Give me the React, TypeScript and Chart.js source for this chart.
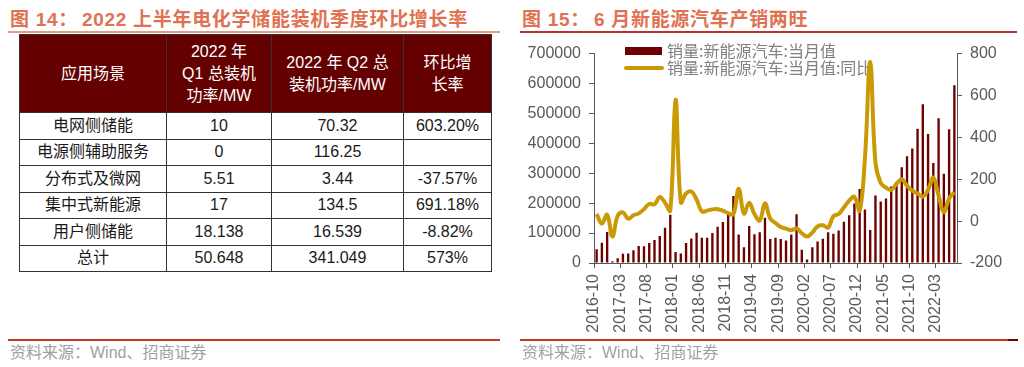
import React, { useEffect, useRef } from 'react';
import { Chart, registerables } from 'chart.js';

Chart.register(...registerables);

// ---------- Figure 14 table data ----------
const tableHeaders = [
  ['应用场景'],
  ['2022 年', 'Q1 总装机', '功率/MW'],
  ['2022 年 Q2 总', '装机功率/MW'],
  ['环比增', '长率'],
];
const scenes = ['电网侧储能', '电源侧辅助服务', '分布式及微网', '集中式新能源', '用户侧储能', '总计'];
const q1Power = ['10', '0', '5.51', '17', '18.138', '50.648'];
const q2Power = ['70.32', '116.25', '3.44', '134.5', '16.539', '341.049'];
const qoqGrowth = ['603.20%', '', '-37.57%', '691.18%', '-8.82%', '573%'];

// ---------- Figure 15 chart data ----------
const months = [
  '2016-10', '2016-11', '2016-12',
  '2017-01', '2017-02', '2017-03', '2017-04', '2017-05', '2017-06', '2017-07', '2017-08', '2017-09', '2017-10', '2017-11', '2017-12',
  '2018-01', '2018-02', '2018-03', '2018-04', '2018-05', '2018-06', '2018-07', '2018-08', '2018-09', '2018-10', '2018-11', '2018-12',
  '2019-01', '2019-02', '2019-03', '2019-04', '2019-05', '2019-06', '2019-07', '2019-08', '2019-09', '2019-10', '2019-11', '2019-12',
  '2020-01', '2020-02', '2020-03', '2020-04', '2020-05', '2020-06', '2020-07', '2020-08', '2020-09', '2020-10', '2020-11', '2020-12',
  '2021-01', '2021-02', '2021-03', '2021-04', '2021-05', '2021-06', '2021-07', '2021-08', '2021-09', '2021-10', '2021-11', '2021-12',
  '2022-01', '2022-02', '2022-03', '2022-04', '2022-05', '2022-06',
];
const salesMonthly = [
  46000, 68000, 104000,
  5700, 16000, 31000, 32000, 43000, 57000, 56000, 67000, 77000, 90000, 118000, 161000,
  37000, 32000, 67000, 82000, 101000, 84000, 84000, 100000, 121000, 137000, 166000, 224000,
  95000, 53000, 124000, 96000, 103000, 151000, 80000, 84000, 80000, 75000, 95000, 163000,
  44000, 12000, 53000, 72000, 81000, 103000, 98000, 109000, 138000, 160000, 199000, 247000,
  179000, 110000, 226000, 206000, 216000, 256000, 271000, 320000, 357000, 383000, 449000, 531000,
  431000, 334000, 484000, 298000, 447000, 594000,
];
const salesYoY = [
  34, -12, 30,
  -74, 26, 42, 11, 28, 37, 57, 82, 80, 115, 88, 50,
  580, 90, 132, 141, 103, 46, 50, 56, 57, 50, 38, 33,
  155, 36, 88, 34, 3, 85, 12, -9, -28, -36, -43, -35,
  -58, -74, -55, -25, -20, -31, 23, 34, 65, 98, 116, 50,
  300, 760, 280, 182, 160, 149, 178, 200, 168, 146, 132, 117,
  150, 208, 122, 43, 108, 138,
];
const legendLabels = ['销量:新能源汽车:当月值', '销量:新能源汽车:当月值:同比'];
const leftAxis = { min: 0, max: 700000, step: 100000 };
const rightAxis = { min: -200, max: 800, step: 200 };

const BAR_COLOR = '#6e0000';
const LINE_COLOR = '#c99a06';
const AXIS_COLOR = '#595959';
const TITLE_COLOR = '#de7252';
const FONT = '"Liberation Sans", "Noto Sans CJK SC", sans-serif';

const legendPlugin = {
  id: 'inlineLegend',
  beforeDatasetsDraw(chart: any) {
    const ctx = chart.ctx;
    ctx.save();
    ctx.fillStyle = BAR_COLOR;
    ctx.fillRect(113, 11, 37, 8);
    ctx.strokeStyle = LINE_COLOR;
    ctx.lineWidth = 4;
    ctx.lineCap = 'round';
    ctx.beginPath();
    ctx.moveTo(114, 32);
    ctx.lineTo(150, 32);
    ctx.stroke();
    ctx.font = '16px "Noto Sans CJK SC", sans-serif';
    ctx.fillStyle = '#808080';
    ctx.textBaseline = 'middle';
    ctx.fillText(legendLabels[0], 155, 15);
    ctx.fillText(legendLabels[1], 155, 32);
    ctx.restore();
  },
};

function SalesChart() {
  const ref = useRef<HTMLCanvasElement>(null);
  useEffect(() => {
    if (!ref.current) return;
    const chart = new Chart(ref.current, {
      type: 'bar',
      data: {
        labels: months,
        datasets: [
          {
            type: 'line',
            label: legendLabels[1],
            data: salesYoY,
            yAxisID: 'y1',
            borderColor: LINE_COLOR,
            backgroundColor: LINE_COLOR,
            borderWidth: 4,
            pointRadius: 0,
            tension: 0.4,
            order: 0,
          } as any,
          {
            type: 'bar',
            label: legendLabels[0],
            data: salesMonthly,
            yAxisID: 'y',
            backgroundColor: BAR_COLOR,
            barPercentage: 0.5,
            categoryPercentage: 0.9,
            order: 1,
          },
        ],
      },
      options: {
        animation: false,
        responsive: false,
        devicePixelRatio: 1,
        layout: { padding: { top: 10, left: 0, right: 0, bottom: 0 } },
        plugins: { legend: { display: false }, tooltip: { enabled: false } },
        scales: {
          x: {
            type: 'category',
            offset: true,
            grid: {
              offset: true,
              drawOnChartArea: false,
              drawTicks: true,
              tickLength: 5,
              color: (c: any) => (c.index % 5 === 0 ? AXIS_COLOR : 'rgba(0,0,0,0)'),
            },
            border: { display: true, color: AXIS_COLOR, width: 1 },
            ticks: {
              autoSkip: false,
              maxRotation: 90,
              minRotation: 90,
              padding: 6,
              labelOffset: -2.6,
              color: AXIS_COLOR,
              font: { family: FONT, size: 16 },
              callback: (_v: any, i: number) => (i % 5 === 0 ? months[i] : ''),
            },
            afterFit: (s: any) => {
              s.height = 79;
            },
          },
          y: {
            position: 'left',
            min: leftAxis.min,
            max: leftAxis.max,
            grid: { drawOnChartArea: false, drawTicks: true, tickLength: 5, color: AXIS_COLOR },
            border: { display: true, color: AXIS_COLOR, width: 1 },
            ticks: {
              stepSize: leftAxis.step,
              padding: 8,
              color: AXIS_COLOR,
              font: { family: FONT, size: 16 },
              callback: (v: any) => String(v),
            },
            afterFit: (s: any) => {
              s.width = 82;
            },
          },
          y1: {
            position: 'right',
            min: rightAxis.min,
            max: rightAxis.max,
            grid: { drawOnChartArea: false, drawTicks: true, tickLength: 5, color: AXIS_COLOR },
            border: { display: true, color: AXIS_COLOR, width: 1 },
            ticks: {
              stepSize: rightAxis.step,
              padding: 8,
              color: AXIS_COLOR,
              font: { family: FONT, size: 16 },
              callback: (v: any) => String(v),
            },
            afterFit: (s: any) => {
              s.width = 67;
            },
          },
        },
      } as any,
      plugins: [legendPlugin],
    });
    return () => chart.destroy();
  }, []);
  return (
    <canvas
      ref={ref}
      width={512}
      height={306}
      style={{ position: 'absolute', left: 512, top: 36, width: 512, height: 306 }}
    />
  );
}

const colWidths = [147, 105, 132, 88];

function StorageTable() {
  const border = '1px solid #333';
  return (
    <table
      style={{
        position: 'absolute',
        left: 19,
        top: 34,
        width: 472,
        borderCollapse: 'collapse',
        tableLayout: 'fixed',
        fontFamily: FONT,
        fontSize: 16,
      }}
    >
      <colgroup>
        {colWidths.map((w, i) => (
          <col key={i} style={{ width: w }} />
        ))}
      </colgroup>
      <thead>
        <tr style={{ height: 78 }}>
          {tableHeaders.map((lines, i) => (
            <th
              key={i}
              style={{
                background: '#640000',
                color: '#fff',
                fontWeight: 'normal',
                border,
                padding: 0,
                lineHeight: '22px',
                textAlign: 'center',
                verticalAlign: 'middle',
              }}
            >
              {lines.map((l, j) => (
                <div key={j}>{l}</div>
              ))}
            </th>
          ))}
        </tr>
      </thead>
      <tbody>
        {scenes.map((s, r) => (
          <tr key={r} style={{ height: 26.5 }}>
            {[s, q1Power[r], q2Power[r], qoqGrowth[r]].map((v, c) => (
              <td
                key={c}
                style={{
                  border,
                  padding: 0,
                  textAlign: 'center',
                  verticalAlign: 'middle',
                  color: '#1a1a1a',
                  lineHeight: '20px',
                }}
              >
                {v}
              </td>
            ))}
          </tr>
        ))}
      </tbody>
    </table>
  );
}

function Title({ left, num, text, lineLeft, lineWidth, lineColor }: any) {
  return (
    <>
      <div
        style={{
          position: 'absolute',
          left,
          top: 8,
          height: 24,
          lineHeight: '24px',
          fontFamily: FONT,
          fontWeight: 'bold',
          fontSize: 19,
          color: TITLE_COLOR,
          whiteSpace: 'nowrap',
          letterSpacing: 0.7,
        }}
      >
        <span>{num}</span>
        <span style={{ position: 'absolute', left: 72 }}>{text}</span>
      </div>
      <div
        style={{
          position: 'absolute',
          left: lineLeft,
          top: 31,
          width: lineWidth,
          height: 1.5,
          background: lineColor,
        }}
      />
    </>
  );
}

function Source({ left, lineLeft, lineWidth }: any) {
  return (
    <>
      <div
        style={{
          position: 'absolute',
          left: lineLeft,
          top: 339,
          width: lineWidth,
          height: 2,
          background: '#c0392b',
        }}
      />
      <div
        style={{
          position: 'absolute',
          left,
          top: 343,
          height: 20,
          lineHeight: '20px',
          fontFamily: FONT,
          fontSize: 16,
          color: '#a0a0a0',
          whiteSpace: 'nowrap',
        }}
      >
        资料来源：Wind、招商证券
      </div>
    </>
  );
}

export default function App() {
  return (
    <div
      style={{
        position: 'absolute',
        left: 0,
        top: 0,
        width: 1024,
        height: 367,
        background: '#fff',
        overflow: 'hidden',
      }}
    >
      <Title left={10} num="图 14：" text="2022 上半年电化学储能装机季度环比增长率" lineLeft={8} lineWidth={492} lineColor="#e59a84" />
      <StorageTable />
      <Source left={10} lineLeft={8} lineWidth={492} />

      <SalesChart />
      <Title left={522} num="图 15：" text="6 月新能源汽车产销两旺" lineLeft={520} lineWidth={497} lineColor="#b8312f" />
      <Source left={522} lineLeft={520} lineWidth={490} />
      <div style={{ position: 'absolute', left: 1008, top: 339, width: 10, height: 2, background: '#7a0000' }} />
    </div>
  );
}
